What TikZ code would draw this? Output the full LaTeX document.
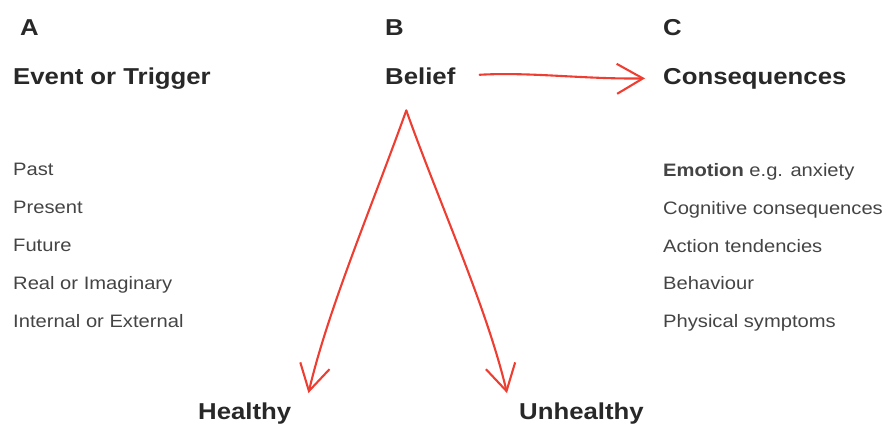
\documentclass[tikz,border=0pt]{standalone}
\usepackage{fontspec}
\setmainfont[FakeStretch=1.12]{Liberation Sans}
\usetikzlibrary{arrows.meta}
\definecolor{penred}{RGB}{238,62,50}
\definecolor{inkgrey}{RGB}{40,40,40}
\definecolor{textgrey}{RGB}{68,68,68}
\begin{document}
\begin{tikzpicture}[x=1pt,y=-1pt,
    head/.style={anchor=base west,inner sep=0pt,text=inkgrey,font=\fontsize{23}{26}\selectfont\bfseries},
    item/.style={anchor=base west,inner sep=0pt,text=textgrey,font=\fontsize{18}{21}\selectfont},
    pen/.style={draw=penred,line width=2.1pt,line cap=round,line join=round,
      -{Straight Barb[length=26pt,width=30pt,line width=2.1pt]}}]
    \useasboundingbox (0,0) rectangle (887,424);
    % column letters
    \node[head] (la) at (20,35) {A};
    \node[head] (lb) at (385,35) {B};
    \node[head] (lc) at (663,35) {C};
    % headings
    \node[head] (event) at (13,84) {Event or Trigger};
    \node[head] (belief) at (385,84) {Belief};
    \node[head] (cons) at (663,84) {Consequences};
    % left list
    \node[item] (past) at (13,175) {Past};
    \node[item] (present) at (13,213) {Present};
    \node[item] (future) at (13,251) {Future};
    \node[item] (real) at (13,289) {Real or Imaginary};
    \node[item] (inex) at (13,327) {Internal or External};
    % right list
    \node[item] (emotion) at (663,176) {\textbf{Emotion} e.g. anxiety};
    \node[item] (cogn) at (663,214) {Cognitive consequences};
    \node[item] (action) at (663,252) {Action tendencies};
    \node[item] (behav) at (663,289) {Behaviour};
    \node[item] (phys) at (663,327) {Physical symptoms};
    % outcomes
    \node[head] (healthy) at (198,419) {Healthy};
    \node[head] (unhealthy) at (519,419) {Unhealthy};
    % red pen arrows
    \coordinate (apex) at ([xshift=-14pt,yshift=-26pt]belief.south);
    \coordinate (ltip) at ([xshift=17pt,yshift=9pt]healthy.north east);
    \coordinate (rtip) at ([xshift=-12pt,yshift=9pt]unhealthy.north west);
    \draw[pen] ([xshift=24pt,yshift=1pt]belief.east) .. controls +(50,-3) and +(-60,1) .. ([xshift=-18pt]cons.west);
    \draw[pen] (apex) .. controls +(-34,95) and +(20,-85) .. (ltip);
    \draw[pen] (apex) .. controls +(34,95) and +(-20,-85) .. (rtip);
\end{tikzpicture}
\end{document}
